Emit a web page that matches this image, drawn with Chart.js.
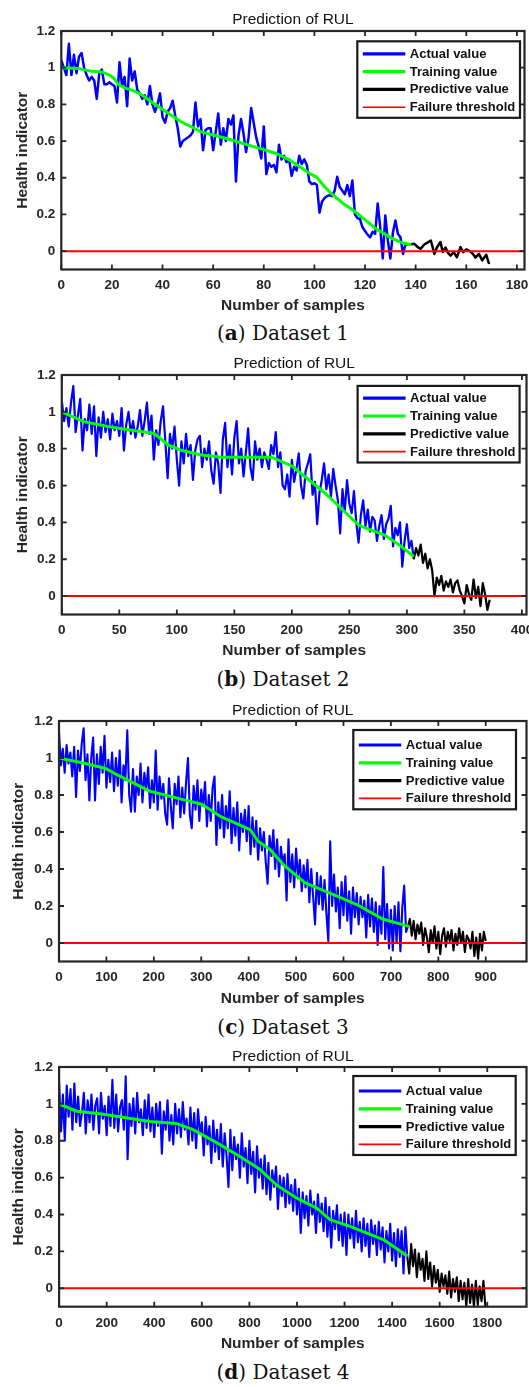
<!DOCTYPE html>
<html><head><meta charset="utf-8">
<script src="https://cdn.jsdelivr.net/npm/chart.js@4.4.1/dist/chart.umd.min.js"></script>
<style>
html,body{margin:0;padding:0;background:#fff;}
body{width:529px;height:1387px;position:relative;overflow:hidden;}
canvas{position:absolute;left:0;}
.cap{position:absolute;left:0;width:566px;text-align:center;font-family:"DejaVu Serif",serif;font-size:20px;color:#111;line-height:24px;height:24px;}
</style></head><body>
<script>
// ---------------- data ----------------
const CHART_TITLE = 'Prediction of RUL';
const X_TITLE = 'Number of samples';
const Y_TITLE = 'Health indicator';
const SERIES_LABELS = ['Actual value', 'Training value', 'Predictive value', 'Failure threshold'];
const CAPTIONS = [['a', 'Dataset 1'], ['b', 'Dataset 2'], ['c', 'Dataset 3'], ['d', 'Dataset 4']];
const Y_TICKS = [0, 0.2, 0.4, 0.6, 0.8, 1, 1.2];
const Y_TICK_LABELS = ['0', '0.2', '0.4', '0.6', '0.8', '1', '1.2'];
const Y_MIN = -0.1, Y_MAX = 1.2;
const THRESHOLD = 0;

// Dataset 1
const D1_X_TICKS = [0, 20, 40, 60, 80, 100, 120, 140, 160, 180];
const D1_X_MAX = 183;
const D1_STEP = 1;
const D1_ACTUAL = [1.04,1.00,0.96,1.13,0.96,1.07,0.97,1.06,1.08,1.00,
0.96,0.93,0.95,0.93,0.83,0.97,0.99,0.91,0.91,0.92,
0.91,0.90,0.81,1.03,0.90,0.95,0.79,1.05,0.93,0.98,
0.88,0.86,0.83,0.85,0.80,0.90,0.80,0.76,0.80,0.86,
0.73,0.70,0.76,0.78,0.82,0.74,0.67,0.57,0.60,0.61,
0.62,0.63,0.65,0.81,0.68,0.72,0.55,0.66,0.67,0.67,
0.55,0.65,0.75,0.58,0.67,0.60,0.72,0.69,0.74,0.38,
0.63,0.72,0.64,0.54,0.62,0.78,0.70,0.62,0.57,0.505,
0.68,0.42,0.48,0.46,0.47,0.43,0.58,0.50,0.52,0.485,
0.50,0.41,0.46,0.44,0.52,0.475,0.50,0.47,0.38,0.365,
0.37,0.36,0.21,0.27,0.29,0.30,0.305,0.30,0.33,0.405,
0.35,0.33,0.31,0.36,0.30,0.385,0.20,0.18,0.175,0.13,
0.11,0.09,0.075,0.105,0.095,0.26,0.13,-0.04,0.195,0.06,
-0.04,0.10,0.167,0.094,0.076,-0.015,0.04,0.036];
const D1_TRAIN_X = [0,7,12,16,19,21,22.4,25,29,32,35.5,39.5,43.4,47.4,51.3,55.3,59.2,65.3,71.8,78.4,85,90.3,94.2,98.2,100.8,104.1,107.4,111.3,115.3,119.2,124.5,131,135,138.3];
const D1_TRAIN_Y = [1.0,0.995,0.98,0.977,0.96,0.94,0.91,0.89,0.872,0.85,0.814,0.777,0.741,0.705,0.678,0.65,0.636,0.614,0.587,0.56,0.532,0.496,0.46,0.423,0.405,0.35,0.305,0.26,0.223,0.18,0.12,0.067,0.044,0.036];
const D1_PRED_X = [137,139.5,141,142,143.4,144.5,146,147.4,148.4,149.8,150.7,151.8,152.8,153.8,155,156.3,157.7,158.8,160,161.3,162.6,163.6,165,166.3,167.9,169];
const D1_PRED_Y = [0.036,0.04,0.02,0.013,0.036,0.045,0.058,-0.015,0.02,0.05,-0.005,0.02,-0.01,-0.024,-0.005,-0.033,0.022,-0.005,0.01,0.0,-0.015,-0.035,-0.015,-0.05,-0.02,-0.07];

// Dataset 2
const D2_X_TICKS = [0, 50, 100, 150, 200, 250, 300, 350, 400];
const D2_X_MAX = 404;
const D2_STEP = 2;
const D2_ACTUAL = [1.06,0.95,1.02,0.92,1.05,1.14,0.89,0.98,1.07,0.79,
0.96,0.90,1.04,0.88,1.03,0.76,0.97,0.86,1.00,0.89,
0.96,0.85,0.99,0.90,0.95,0.87,1.02,0.79,0.93,1.00,
0.88,0.95,0.86,0.92,1.01,0.87,0.95,1.05,0.88,0.98,
0.74,0.90,0.82,0.95,1.03,0.84,0.64,0.88,0.80,0.92,
0.74,0.60,0.84,0.72,0.88,0.76,0.82,0.63,0.79,0.85,
0.87,0.70,0.80,0.74,0.84,0.68,0.61,0.78,0.72,0.56,
0.85,0.94,0.70,0.82,0.66,0.86,0.95,0.72,0.80,0.65,
0.78,0.91,0.70,0.63,0.84,0.74,0.80,0.70,0.78,0.74,
0.69,0.82,0.77,0.89,0.70,0.78,0.60,0.58,0.66,0.54,
0.74,0.62,0.69,0.775,0.60,0.53,0.68,0.72,0.77,0.55,
0.62,0.39,0.56,0.63,0.72,0.58,0.66,0.54,0.69,0.60,
0.52,0.34,0.58,0.46,0.63,0.50,0.45,0.57,0.40,0.29,
0.44,0.52,0.38,0.47,0.35,0.43,0.41,0.30,0.38,0.44,
0.31,0.39,0.42,0.49,0.27,0.37,0.33,0.40,0.16,0.30,
0.39,0.26,0.30,0.20];
const D2_PRED_START = 306;
const D2_PRED = [0.20,0.26,0.22,0.28,0.18,0.23,0.15,0.20,0.14,0.0,
0.10,0.06,0.11,0.03,0.08,0.05,0.09,0.02,0.07,0.085,
0.03,0.0,-0.04,0.06,0.01,-0.02,0.09,-0.01,0.05,-0.055,
0.07,0.01,-0.075,-0.02];
const D2_TRAIN_X = [0,19,40,64,80,92.5,103,121.5,139,182,188,200,229,258,261,281,295,306];
const D2_TRAIN_Y = [1.0,0.947,0.92,0.897,0.884,0.82,0.793,0.766,0.754,0.754,0.739,0.706,0.558,0.386,0.377,0.33,0.27,0.215];

// Dataset 3
const D3_X_TICKS = [0, 100, 200, 300, 400, 500, 600, 700, 800, 900];
const D3_X_MAX = 986;
const D3_STEP = 4;
const D3_ACTUAL = [1.14,0.96,1.05,0.92,1.07,0.97,1.03,0.90,1.06,0.79,
1.04,0.93,1.08,1.16,0.88,1.02,0.77,1.00,1.11,0.77,
1.02,0.86,1.06,0.92,1.12,0.84,0.99,0.87,1.03,0.82,
1.00,0.85,1.04,0.76,0.96,0.88,1.15,0.80,0.71,0.94,
0.71,0.90,0.80,0.97,0.76,0.92,0.83,0.95,0.73,0.88,
0.76,1.04,0.72,0.90,0.78,0.86,0.70,0.64,0.89,0.73,
0.62,0.86,0.75,0.90,0.68,0.84,0.70,0.87,1.00,0.69,
0.62,0.85,0.72,0.88,0.66,0.83,0.74,0.87,0.63,0.80,
0.66,0.84,0.90,0.53,0.76,0.62,0.80,0.57,0.74,0.62,
0.82,0.54,0.73,0.58,0.76,0.50,0.70,0.60,0.72,0.55,
0.74,0.48,0.68,0.52,0.66,0.45,0.62,0.50,0.60,0.44,
0.32,0.58,0.47,0.61,0.40,0.56,0.36,0.52,0.43,0.48,
0.23,0.56,0.33,0.48,0.30,0.51,0.35,0.45,0.28,0.42,
0.30,0.45,0.22,0.40,0.25,0.10,0.38,0.21,0.36,0.18,
0.34,0.16,0.01,0.55,0.20,0.37,0.17,0.30,0.08,0.33,
0.15,0.36,0.12,0.28,0.05,0.30,0.14,0.27,0.10,0.25,
0.14,0.23,0.03,0.26,0.09,0.24,0.06,0.22,-0.01,0.20,
0.05,0.41,0.02,0.21,-0.03,0.18,-0.04,0.20,0.0,0.22,
-0.045,0.19,0.31,0.06,0.09];
const D3_PRED_START = 736;
const D3_PRED = [0.09,0.13,0.04,0.12,0.02,0.10,0.05,0.11,-0.01,0.08,
0.03,-0.05,0.07,0.0,0.09,-0.03,0.06,-0.06,0.04,0.08,
-0.02,0.06,0.01,0.07,-0.04,0.05,-0.01,0.08,0.0,0.06,
-0.05,0.04,0.02,-0.03,0.06,-0.07,0.03,-0.085,0.05,-0.04,
0.06,0.01];
const D3_TRAIN_X = [0,51,97,122,192,262,301,340,403,420,445,473,519,579,628,684,738];
const D3_TRAIN_Y = [1.0,0.973,0.945,0.91,0.82,0.775,0.75,0.685,0.613,0.55,0.505,0.424,0.325,0.262,0.208,0.128,0.09];

// Dataset 4
const D4_X_TICKS = [0, 200, 400, 600, 800, 1000, 1200, 1400, 1600, 1800];
const D4_X_MAX = 1965;
const D4_STEP = 8;
const D4_ACTUAL = [1.12,0.85,1.05,0.80,1.10,0.93,1.08,0.86,1.11,0.90,
1.04,0.88,0.95,1.06,0.84,1.02,0.90,1.05,0.86,0.99,
1.03,0.84,1.06,0.92,0.99,0.83,1.04,0.88,1.13,0.87,
1.05,0.85,0.98,1.02,0.86,1.15,0.70,1.00,0.88,1.03,
0.84,1.06,0.90,0.97,0.83,1.02,0.87,1.05,0.85,0.98,
0.82,1.00,0.88,1.01,0.73,0.96,0.86,1.02,0.80,0.94,
0.78,1.00,0.84,0.97,0.82,1.01,0.86,0.92,0.78,0.98,
0.80,0.95,0.76,0.97,0.84,0.90,0.72,0.93,0.78,0.88,
0.68,0.91,0.74,0.86,0.70,0.89,0.66,0.84,0.72,0.55,
0.86,0.64,0.82,0.70,0.78,0.60,0.84,0.66,0.76,0.57,
0.80,0.62,0.74,0.52,0.77,0.60,0.70,0.54,0.72,0.51,
0.68,0.48,0.64,0.55,0.66,0.43,0.61,0.50,0.60,0.44,
0.62,0.46,0.56,0.42,0.59,0.40,0.54,0.30,0.52,0.38,
0.50,0.34,0.53,0.40,0.47,0.30,0.51,0.36,0.46,0.31,
0.49,0.28,0.44,0.22,0.42,0.32,0.45,0.26,0.40,0.23,
0.41,0.18,0.40,0.27,0.38,0.22,0.42,0.25,0.36,0.20,
0.38,0.23,0.35,0.17,0.37,0.24,0.34,0.18,0.36,0.21,
0.33,0.14,0.31,0.20,0.35,0.15,0.30,0.12,0.32,0.17,
0.31,0.08,0.33,0.17];
const D4_PRED_START = 1464;
const D4_PRED = [0.17,0.08,0.24,0.12,0.21,0.06,0.19,0.10,0.16,0.04,
0.20,0.05,0.14,0.01,0.12,0.03,0.10,-0.02,0.08,0.01,
0.07,-0.03,0.09,-0.05,0.05,-0.02,0.06,-0.07,0.04,-0.06,
0.03,-0.10,0.05,-0.08,0.02,-0.10,0.04,-0.09,0.01,-0.07,
0.04,-0.10,-0.10];
const D4_TRAIN_X = [0,74,172,382,494,564,662,760,844,914,998,1083,1139,1223,1363,1464];
const D4_TRAIN_Y = [1.0,0.96,0.947,0.905,0.893,0.86,0.79,0.715,0.645,0.56,0.49,0.435,0.372,0.336,0.264,0.175];

// ---------------- helpers ----------------
const FONT = '"Liberation Sans", Arial, Helvetica, sans-serif';
const AXIS_COLOR = '#262626';
const COLORS = { actual: '#0000ff', train: '#00ff00', pred: '#000000', thr: '#ff0000' };

const seq = (vals, start, step) => vals.map((y, i) => ({ x: start + i * step, y }));
const pairs = (xs, ys) => xs.map((x, i) => ({ x, y: ys[i] }));

const PANELS = [
  { area: { left: 61.3, right: 524.5, top: 30.5, bottom: 269 }, titleY: 19, xTitleY: 305, yTitleX: 23,
    xMax: D1_X_MAX, xTicks: D1_X_TICKS, lw: 2.5,
    actual: seq(D1_ACTUAL, 0, D1_STEP), train: pairs(D1_TRAIN_X, D1_TRAIN_Y), pred: pairs(D1_PRED_X, D1_PRED_Y),
    legend: { left: 357.3, top: 40.8, w: 162.7, h: 76.5, first: 12.5 }, capY: 333 },
  { area: { left: 61.8, right: 526.5, top: 374.8, bottom: 614.3 }, titleY: 363.5, xTitleY: 651, yTitleX: 23,
    xMax: D2_X_MAX, xTicks: D2_X_TICKS, lw: 2.2,
    actual: seq(D2_ACTUAL, 0, D2_STEP), train: pairs(D2_TRAIN_X, D2_TRAIN_Y), pred: seq(D2_PRED, D2_PRED_START, D2_STEP),
    legend: { left: 357.6, top: 385.7, w: 162, h: 76.6, first: 12.3 }, capY: 679 },
  { area: { left: 59, right: 526.5, top: 721, bottom: 961.5 }, titleY: 710.7, xTitleY: 999, yTitleX: 18.6,
    xMax: D3_X_MAX, xTicks: D3_X_TICKS, lw: 2.1,
    actual: seq(D3_ACTUAL, 0, D3_STEP), train: pairs(D3_TRAIN_X, D3_TRAIN_Y), pred: seq(D3_PRED, D3_PRED_START, D3_STEP),
    legend: { left: 353.3, top: 730, w: 162.7, h: 79.3, first: 15 }, capY: 1027 },
  { area: { left: 59.1, right: 526.5, top: 1067, bottom: 1306.7 }, titleY: 1056.7, xTitleY: 1344, yTitleX: 18.6,
    xMax: D4_X_MAX, xTicks: D4_X_TICKS, lw: 2.1,
    actual: seq(D4_ACTUAL, 0, D4_STEP), train: pairs(D4_TRAIN_X, D4_TRAIN_Y), pred: seq(D4_PRED, D4_PRED_START, D4_STEP),
    legend: { left: 353.3, top: 1076, w: 162.4, h: 79, first: 15 }, capY: 1371.7 }
];

const matlabAxes = {
  id: 'matlabAxes',
  afterDraw(chart, args, opts) {
    const { ctx, chartArea: ca, scales } = chart;
    const xs = scales.x, ys = scales.y;
    ctx.save();
    ctx.strokeStyle = AXIS_COLOR; ctx.lineWidth = 1.8; ctx.lineCap = 'butt';
    const L = 5;
    ctx.beginPath();
    xs.ticks.forEach(t => {
      const p = xs.getPixelForValue(t.value);
      ctx.moveTo(p, ca.bottom); ctx.lineTo(p, ca.bottom - L);
      ctx.moveTo(p, ca.top); ctx.lineTo(p, ca.top + L);
    });
    ys.ticks.forEach(t => {
      const p = ys.getPixelForValue(t.value);
      ctx.moveTo(ca.left, p); ctx.lineTo(ca.left + L, p);
      ctx.moveTo(ca.right, p); ctx.lineTo(ca.right - L, p);
    });
    ctx.stroke();
    ctx.lineWidth = 2.2;
    ctx.strokeRect(ca.left, ca.top, ca.right - ca.left, ca.bottom - ca.top);
    ctx.fillStyle = '#111';
    ctx.font = '15.5px ' + FONT;
    ctx.textAlign = 'center'; ctx.textBaseline = 'middle';
    ctx.fillText(CHART_TITLE, (ca.left + ca.right) / 2, opts.titleY);
    const lg = opts.legend;
    ctx.fillStyle = '#fff';
    ctx.fillRect(lg.left, lg.top, lg.w, lg.h);
    ctx.lineWidth = 2.2; ctx.strokeStyle = '#1a1a1a';
    ctx.strokeRect(lg.left, lg.top, lg.w, lg.h);
    ctx.font = 'bold 13px ' + FONT;
    ctx.textAlign = 'left';
    SERIES_LABELS.forEach((lab, i) => {
      const ds = chart.data.datasets.find(d => d.label === lab);
      const y = lg.top + lg.first + i * 17.8;
      ctx.strokeStyle = ds.borderColor;
      ctx.lineWidth = ds.legendWidth;
      ctx.beginPath(); ctx.moveTo(lg.left + 5.5, y); ctx.lineTo(lg.left + 48, y); ctx.stroke();
      ctx.fillStyle = '#111';
      ctx.fillText(lab, lg.left + 52.5, y + 0.5);
    });
    ctx.restore();
  }
};

PANELS.forEach((P, idx) => {
  const a = P.area;
  const T = a.top - 30;
  const H = Math.round(a.bottom - a.top + 78);
  const canvas = document.createElement('canvas');
  canvas.width = 529; canvas.height = H;
  canvas.style.width = '529px'; canvas.style.height = H + 'px';
  canvas.style.top = T + 'px';
  document.body.appendChild(canvas);

  const bottomRel = a.bottom - T;
  const xAxisH = H - bottomRel;
  const titleLH = 15.5 * 1.2;
  const xTitlePadBottom = H - (P.xTitleY - T) - titleLH / 2;
  const yTitlePadTop = P.yTitleX - titleLH / 2;

  new Chart(canvas, {
    type: 'line',
    data: {
      datasets: [
        { label: SERIES_LABELS[3], data: [{ x: 0, y: THRESHOLD }, { x: P.xMax, y: THRESHOLD }], borderColor: COLORS.thr, borderWidth: 2, legendWidth: 1.6, order: 0 },
        { label: SERIES_LABELS[1], data: P.train, borderColor: COLORS.train, borderWidth: 3, legendWidth: 3.2, order: 1 },
        { label: SERIES_LABELS[2], data: P.pred, borderColor: COLORS.pred, borderWidth: P.lw, legendWidth: 3.2, order: 2 },
        { label: SERIES_LABELS[0], data: P.actual, borderColor: COLORS.actual, borderWidth: P.lw, legendWidth: 3.2, order: 3 }
      ]
    },
    options: {
      responsive: false, animation: false, devicePixelRatio: 1,
      layout: { padding: { top: a.top - T, right: 529 - a.right, bottom: 0, left: 0 } },
      elements: { point: { radius: 0, hoverRadius: 0 }, line: { tension: 0, borderJoinStyle: 'round', fill: false } },
      plugins: {
        legend: { display: false }, title: { display: false }, tooltip: { enabled: false },
        matlabAxes: { titleY: P.titleY - T, legend: { left: P.legend.left, top: P.legend.top - T, w: P.legend.w, h: P.legend.h, first: P.legend.first } }
      },
      scales: {
        x: {
          type: 'linear', min: 0, max: P.xMax,
          grid: { display: false, drawTicks: false }, border: { display: false },
          afterBuildTicks: s => { s.ticks = P.xTicks.map(v => ({ value: v })); },
          afterFit: s => { s.height = xAxisH; s.paddingLeft = 0; s.paddingRight = 0; },
          ticks: { autoSkip: false, maxRotation: 0, minRotation: 0, padding: 8, color: AXIS_COLOR,
            font: { family: FONT, size: 13.5, weight: 'bold' }, callback: (v, i) => String(P.xTicks[i]) },
          title: { display: true, text: X_TITLE, color: AXIS_COLOR, font: { family: FONT, size: 15.5, weight: 'bold' },
            padding: { top: 0, bottom: xTitlePadBottom } }
        },
        y: {
          type: 'linear', min: Y_MIN, max: Y_MAX,
          grid: { display: false, drawTicks: false }, border: { display: false },
          afterBuildTicks: s => { s.ticks = Y_TICKS.map(v => ({ value: v })); },
          afterFit: s => { s.width = a.left; s.paddingTop = 0; s.paddingBottom = 0; },
          ticks: { autoSkip: false, padding: 6, color: AXIS_COLOR,
            font: { family: FONT, size: 13.5, weight: 'bold' }, callback: (v, i) => Y_TICK_LABELS[i] },
          title: { display: true, text: Y_TITLE, color: AXIS_COLOR, font: { family: FONT, size: 15.5, weight: 'bold' },
            padding: { top: yTitlePadTop, bottom: 0 } }
        }
      }
    },
    plugins: [matlabAxes]
  });

  const cap = document.createElement('div');
  cap.className = 'cap';
  cap.style.top = (P.capY - 12) + 'px';
  cap.innerHTML = '(<b>' + CAPTIONS[idx][0] + '</b>) ' + CAPTIONS[idx][1];
  document.body.appendChild(cap);
});
</script>
</body></html>
